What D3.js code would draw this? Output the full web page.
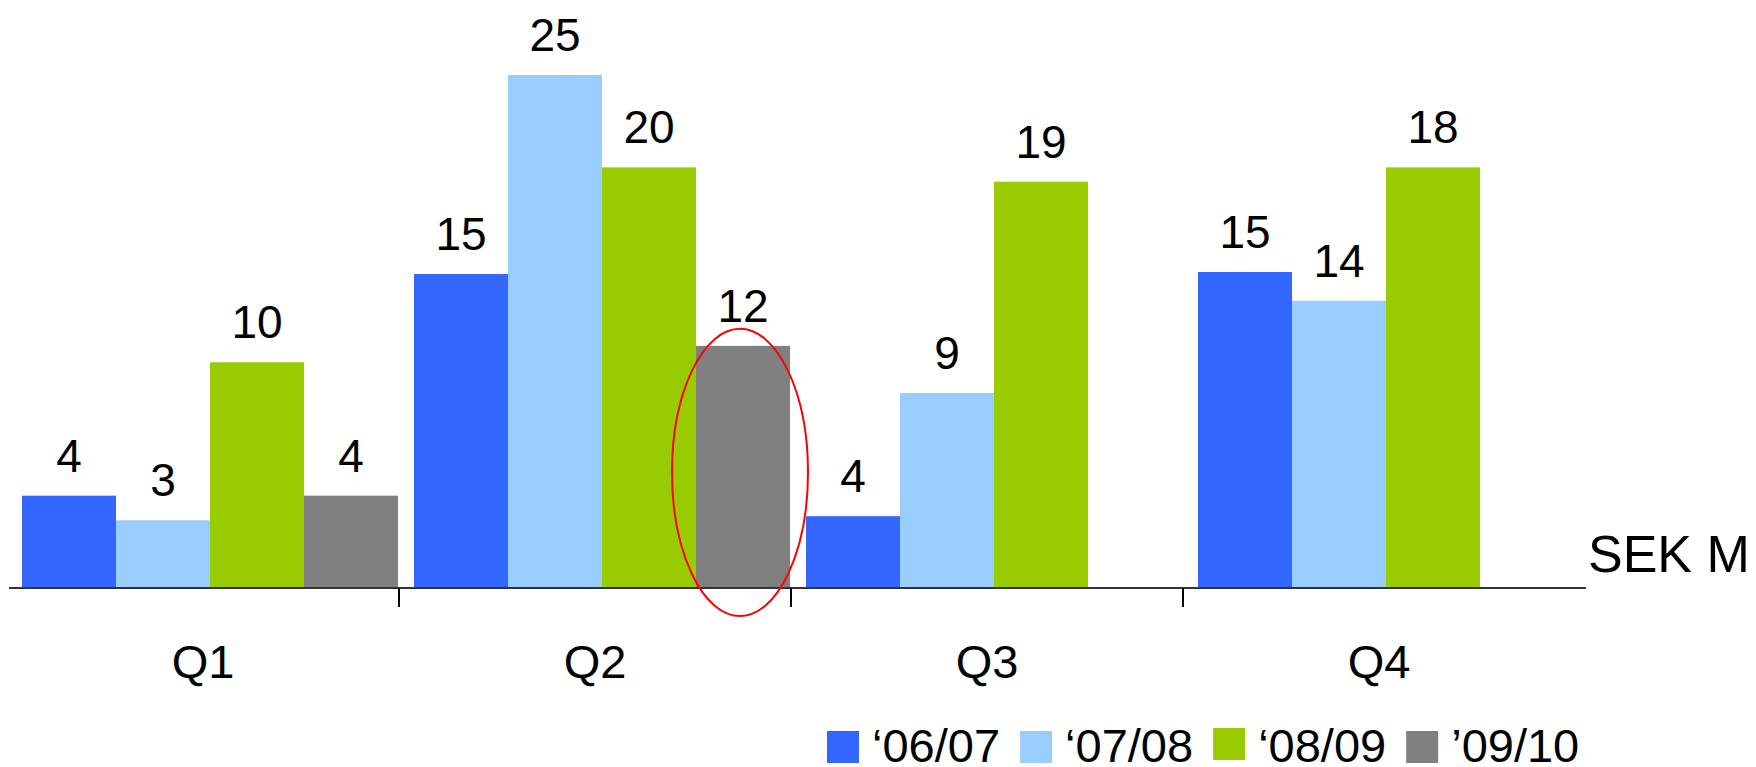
<!DOCTYPE html>
<html lang="en">
<head>
<meta charset="UTF-8">
<title>SEK M by quarter</title>
<script src="https://d3js.org/d3.v7.min.js"></script>
<style>
  html, body { margin: 0; padding: 0; background: #fff; }
  svg { display: block; font-family: "Liberation Sans", Arial, sans-serif; }
</style>
</head>
<body>
<svg id="chart" width="1756" height="767"></svg>
<script>
// data
const quarters = ["Q1", "Q2", "Q3", "Q4"];
const seasons = ["‘06/07", "‘07/08", "‘08/09", "’09/10"];
const colors = ["#3366FF", "#99CCFF", "#99CC00", "#808080"];

// bar heights (SEK M), one array per season, null = no bar
const s0607 = [4.5, 15.3, 3.5, 15.4];
const s0708 = [3.3, 25, 9.5, 14.0];
const s0809 = [11.0, 20.5, 19.8, 20.5];
const s0910 = [4.5, 11.8, null, null];

// the printed labels above the bars
const lab0607 = ["4", "15", "4", "15"];
const lab0708 = ["3", "25", "9", "14"];
const lab0809 = ["10", "20", "19", "18"];
const lab0910 = ["4", "12", "", ""];

const unit = "SEK M";
const highlight = { quarter: "Q2", season: 3 };

const seriesValues = [s0607, s0708, s0809, s0910];
const seriesLabels = [lab0607, lab0708, lab0809, lab0910];

const bars = [];
quarters.forEach((q, qi) => {
  seriesValues.forEach((vals, si) => {
    if (vals[qi] == null) return;
    bars.push({ q, si, value: vals[qi], label: seriesLabels[si][qi] });
  });
});

const svg = d3.select("#chart");
const axisY = 588;

const x0 = d3.scaleBand().domain(quarters).range([7, 1575]).padding(0);
const x1 = d3.scaleBand().domain(d3.range(seasons.length)).range([15, 391]).padding(0);
const y = d3.scaleLinear().domain([0, 25]).range([axisY, 75]);

// bars
svg.append("g")
  .selectAll("rect")
  .data(bars)
  .join("rect")
  .attr("x", d => x0(d.q) + x1(d.si))
  .attr("y", d => y(d.value))
  .attr("width", x1.bandwidth())
  .attr("height", d => y(0) - y(d.value))
  .attr("fill", d => colors[d.si]);

// value labels
svg.append("g")
  .selectAll("text")
  .data(bars)
  .join("text")
  .attr("x", d => x0(d.q) + x1(d.si) + x1.bandwidth() / 2)
  .attr("y", d => y(d.value) - 24)
  .attr("text-anchor", "middle")
  .attr("font-size", 46)
  .attr("fill", "#000")
  .text(d => d.label);

// baseline
svg.append("line")
  .attr("x1", x0.range()[0] + 2)
  .attr("x2", x0.range()[1] + 11)
  .attr("y1", axisY)
  .attr("y2", axisY)
  .attr("stroke", "#333")
  .attr("stroke-width", 2);

// separators between quarters
svg.append("g")
  .selectAll("line")
  .data(quarters.slice(1))
  .join("line")
  .attr("x1", d => x0(d))
  .attr("x2", d => x0(d))
  .attr("y1", axisY)
  .attr("y2", axisY + 19)
  .attr("stroke", "#000")
  .attr("stroke-width", 2);

// quarter labels
const xAxis = svg.append("g")
  .attr("transform", `translate(0,${axisY})`)
  .call(d3.axisBottom(x0).tickSize(0).tickPadding(57));
xAxis.select(".domain").remove();
xAxis.selectAll("text")
  .attr("font-size", 47)
  .attr("font-family", "\"Liberation Sans\", Arial, sans-serif")
  .attr("fill", "#000");

// unit
svg.append("text")
  .attr("x", 1588)
  .attr("y", 572)
  .attr("font-size", 52)
  .attr("fill", "#000")
  .text(unit);

// red ellipse around the highlighted bar
const hx = x0(highlight.quarter) + x1(highlight.season) + x1.bandwidth() / 2;
const hv = seriesValues[highlight.season][quarters.indexOf(highlight.quarter)];
const barTop = y(hv);
svg.append("ellipse")
  .attr("cx", hx - 3)
  .attr("cy", (barTop - 17 + y(0) + 28) / 2)
  .attr("rx", 68)
  .attr("ry", (y(0) + 28 - (barTop - 17)) / 2)
  .attr("fill", "none")
  .attr("stroke", "#FF0000")
  .attr("stroke-width", 2);

// legend
const legend = svg.append("g");
let lx = 827;
seasons.forEach((s, i) => {
  legend.append("rect")
    .attr("x", lx)
    .attr("y", i === 2 ? 728 : 731)
    .attr("width", 32)
    .attr("height", 32)
    .attr("fill", colors[i]);
  const t = legend.append("text")
    .attr("x", lx + 45)
    .attr("y", 762)
    .attr("font-size", 47)
    .attr("fill", "#000")
    .text(s);
  lx = lx + 45 + t.node().getComputedTextLength() + 20;
});
</script>
</body>
</html>
